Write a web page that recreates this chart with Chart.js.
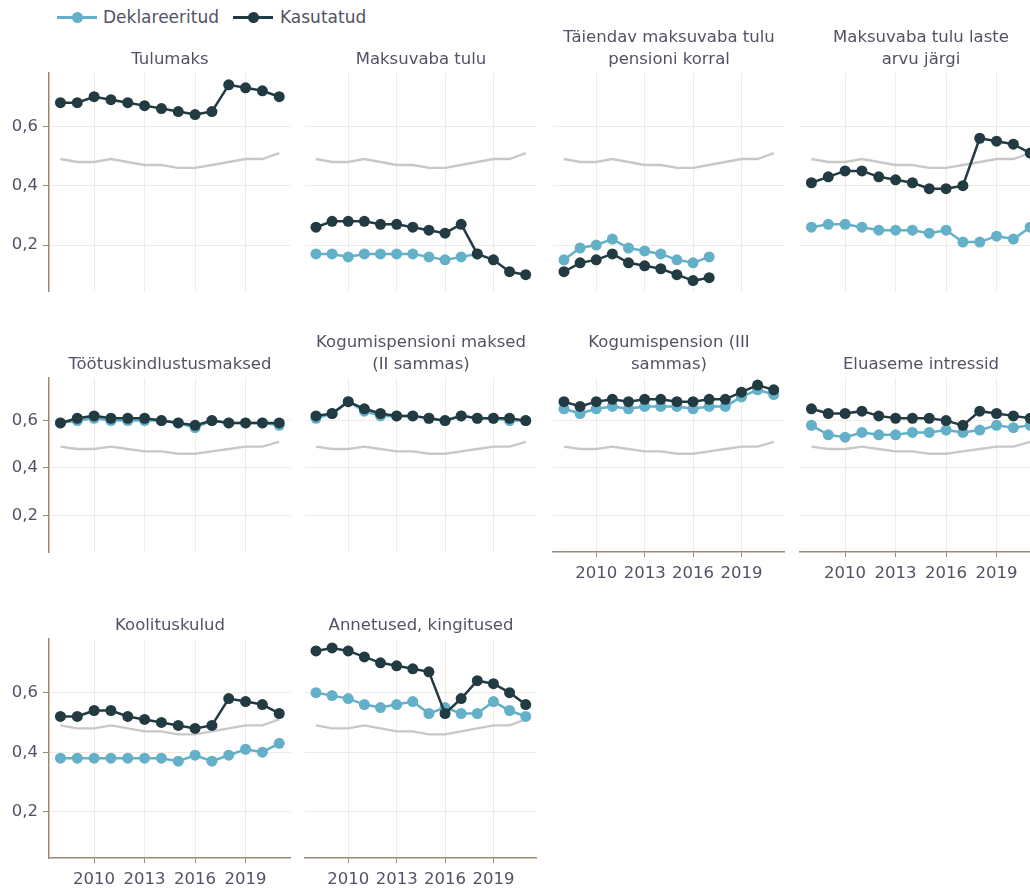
<!DOCTYPE html>
<html>
<head>
<meta charset="utf-8">
<script src="https://cdn.jsdelivr.net/npm/chart.js@4.4.1/dist/chart.umd.min.js"></script>
<style>
  html, body { margin: 0; padding: 0; background: #fff; overflow: hidden; }
  body { width: 1030px; height: 888px; position: relative; font-family: "DejaVu Sans", Verdana, sans-serif; }
  canvas.panel { position: absolute; }
  .leg { position: absolute; top: 7px; font-size: 17px; line-height: 20px; color: #515364; white-space: nowrap; }
  .icon { position: absolute; top: 16px; width: 40px; height: 2.5px; }
  .icon span { position: absolute; left: 14.5px; top: -4.25px; width: 11px; height: 11px; border-radius: 50%; background: inherit; }
</style>
</head>
<body>
<div class="icon" style="left:57px;background:#63b0c8"><span></span></div>
<div class="leg" style="left:103px">Deklareeritud</div>
<div class="icon" style="left:233px;background:#223b43"><span></span></div>
<div class="leg" style="left:280px">Kasutatud</div>

<script>
// years and axis ticks
const years = [2008, 2009, 2010, 2011, 2012, 2013, 2014, 2015, 2016, 2017, 2018, 2019, 2020, 2021];
const xTicks = [2010, 2013, 2016, 2019];
const yTicks = [0.2, 0.4, 0.6];

// grey comparison line, same in every panel
const vordlus = [0.49, 0.48, 0.48, 0.49, 0.48, 0.47, 0.47, 0.46, 0.46, 0.47, 0.48, 0.49, 0.49, 0.51];

const tulumaksDekl = [null, null, null, null, null, null, null, null, null, null, null, null, null, null];
const tulumaksKas = [0.68, 0.68, 0.70, 0.69, 0.68, 0.67, 0.66, 0.65, 0.64, 0.65, 0.74, 0.73, 0.72, 0.70];

const maksuvabaDekl = [0.17, 0.17, 0.16, 0.17, 0.17, 0.17, 0.17, 0.16, 0.15, 0.16, 0.17, null, null, null];
const maksuvabaKas = [0.26, 0.28, 0.28, 0.28, 0.27, 0.27, 0.26, 0.25, 0.24, 0.27, 0.17, 0.15, 0.11, 0.10];

const pensionDekl = [0.15, 0.19, 0.20, 0.22, 0.19, 0.18, 0.17, 0.15, 0.14, 0.16, null, null, null, null];
const pensionKas = [0.11, 0.14, 0.15, 0.17, 0.14, 0.13, 0.12, 0.10, 0.08, 0.09, null, null, null, null];

const lasteDekl = [0.26, 0.27, 0.27, 0.26, 0.25, 0.25, 0.25, 0.24, 0.25, 0.21, 0.21, 0.23, 0.22, 0.26];
const lasteKas = [0.41, 0.43, 0.45, 0.45, 0.43, 0.42, 0.41, 0.39, 0.39, 0.40, 0.56, 0.55, 0.54, 0.51];

const tootusDekl = [0.59, 0.60, 0.61, 0.60, 0.60, 0.60, 0.60, 0.59, 0.57, 0.60, 0.59, 0.59, 0.59, 0.58];
const tootusKas = [0.59, 0.61, 0.62, 0.61, 0.61, 0.61, 0.60, 0.59, 0.58, 0.60, 0.59, 0.59, 0.59, 0.59];

const teineDekl = [0.61, 0.63, 0.68, 0.64, 0.62, 0.62, 0.62, 0.61, 0.60, 0.62, 0.61, 0.61, 0.60, 0.60];
const teineKas = [0.62, 0.63, 0.68, 0.65, 0.63, 0.62, 0.62, 0.61, 0.60, 0.62, 0.61, 0.61, 0.61, 0.60];

const kolmasDekl = [0.65, 0.63, 0.65, 0.66, 0.65, 0.66, 0.66, 0.66, 0.65, 0.66, 0.66, 0.70, 0.73, 0.71];
const kolmasKas = [0.68, 0.66, 0.68, 0.69, 0.68, 0.69, 0.69, 0.68, 0.68, 0.69, 0.69, 0.72, 0.75, 0.73];

const eluaseDekl = [0.58, 0.54, 0.53, 0.55, 0.54, 0.54, 0.55, 0.55, 0.56, 0.55, 0.56, 0.58, 0.57, 0.58];
const eluaseKas = [0.65, 0.63, 0.63, 0.64, 0.62, 0.61, 0.61, 0.61, 0.60, 0.58, 0.64, 0.63, 0.62, 0.61];

const koolitusDekl = [0.38, 0.38, 0.38, 0.38, 0.38, 0.38, 0.38, 0.37, 0.39, 0.37, 0.39, 0.41, 0.40, 0.43];
const koolitusKas = [0.52, 0.52, 0.54, 0.54, 0.52, 0.51, 0.50, 0.49, 0.48, 0.49, 0.58, 0.57, 0.56, 0.53];

const annetusDekl = [0.60, 0.59, 0.58, 0.56, 0.55, 0.56, 0.57, 0.53, 0.55, 0.53, 0.53, 0.57, 0.54, 0.52];
const annetusKas = [0.74, 0.75, 0.74, 0.72, 0.70, 0.69, 0.68, 0.67, 0.53, 0.58, 0.64, 0.63, 0.60, 0.56];

const panels = [
  { title: ['Tulumaks'], dekl: tulumaksDekl, kas: tulumaksKas },
  { title: ['Maksuvaba tulu'], dekl: maksuvabaDekl, kas: maksuvabaKas },
  { title: ['Täiendav maksuvaba tulu', 'pensioni korral'], dekl: pensionDekl, kas: pensionKas },
  { title: ['Maksuvaba tulu laste', 'arvu järgi'], dekl: lasteDekl, kas: lasteKas },
  { title: ['Töötuskindlustusmaksed'], dekl: tootusDekl, kas: tootusKas },
  { title: ['Kogumispensioni maksed', '(II sammas)'], dekl: teineDekl, kas: teineKas },
  { title: ['Kogumispension (III', 'sammas)'], dekl: kolmasDekl, kas: kolmasKas },
  { title: ['Eluaseme intressid'], dekl: eluaseDekl, kas: eluaseKas },
  { title: ['Koolituskulud'], dekl: koolitusDekl, kas: koolitusKas },
  { title: ['Annetused, kingitused'], dekl: annetusDekl, kas: annetusKas }
];

// layout of the facet grid (plot area edges in page pixels)
const cols = [[49, 291], [305, 537], [553, 785], [800, 1042]];
const rows = [[73, 291], [378, 552], [639, 858]];
const YW = 49, TH = 46, XH = 34;

const FONT = '"DejaVu Sans", Verdana, sans-serif';
const TXT = '#515364';
const GRID = '#f3ebe3';
const AXIS = '#9c8872';
const LIGHT = '#63b0c8';
const DARK = '#223b43';
const GREY = '#c8c8c8';

panels.forEach((p, i) => {
  const c = i % 4, r = Math.floor(i / 4);
  const showY = c === 0;
  const showX = i + 4 >= panels.length;
  const [pl, pr] = cols[c];
  const [pt, pb] = rows[r];
  const w = YW + (pr - pl), h = TH + (pb - pt) + XH;

  const cv = document.createElement('canvas');
  cv.className = 'panel';
  cv.width = w; cv.height = h;
  cv.style.width = w + 'px'; cv.style.height = h + 'px';
  cv.style.left = (pl - YW) + 'px';
  cv.style.top = (pt - TH) + 'px';
  document.body.appendChild(cv);

  new Chart(cv, {
    type: 'line',
    data: {
      labels: years,
      datasets: [
        { label: 'Kasutatud', data: p.kas, borderColor: DARK, backgroundColor: DARK, borderWidth: 2.5,
          pointRadius: 5.5, pointBorderWidth: 0, tension: 0, clip: false, order: 0 },
        { label: 'Deklareeritud', data: p.dekl, borderColor: LIGHT, backgroundColor: LIGHT, borderWidth: 2.5,
          pointRadius: 5.5, pointBorderWidth: 0, tension: 0, clip: false, order: 1 },
        { label: 'Võrdlus', data: vordlus, borderColor: GREY, borderWidth: 2.4,
          pointRadius: 0, tension: 0, clip: false, order: 2 }
      ]
    },
    options: {
      responsive: false,
      animation: false,
      events: [],
      layout: { padding: 0, autoPadding: false },
      plugins: {
        legend: { display: false },
        tooltip: { enabled: false },
        title: {
          display: true,
          text: p.title,
          fullSize: false,
          color: TXT,
          font: { family: FONT, size: 16.5, weight: 'normal', lineHeight: 22 / 16.5 },
          padding: { top: p.title.length === 1 ? 22 : 0, bottom: 2 }
        }
      },
      scales: {
        x: {
          type: 'linear',
          min: 2007.32,
          max: 2021.7,
          afterBuildTicks: s => { s.ticks = xTicks.map(v => ({ value: v })); },
          afterFit: s => { s.height = XH; },
          grid: { color: GRID, drawTicks: showX, tickLength: 5, tickColor: AXIS },
          border: { display: showX, color: AXIS, width: 1.5 },
          ticks: { display: showX, color: TXT, font: { family: FONT, size: 16.5 }, padding: 7,
                   maxRotation: 0, callback: v => String(v) }
        },
        y: {
          min: 0.045,
          max: 0.78,
          afterBuildTicks: s => { s.ticks = yTicks.map(v => ({ value: v })); },
          afterFit: s => { s.width = YW; },
          grid: { color: GRID, drawTicks: showY, tickLength: 6, tickColor: AXIS },
          border: { display: showY, color: AXIS, width: 1.5 },
          ticks: { display: showY, color: TXT, font: { family: FONT, size: 16.5 }, padding: 5,
                   callback: v => v.toFixed(1).replace('.', ',') }
        }
      }
    }
  });
});
</script>
</body>
</html>
